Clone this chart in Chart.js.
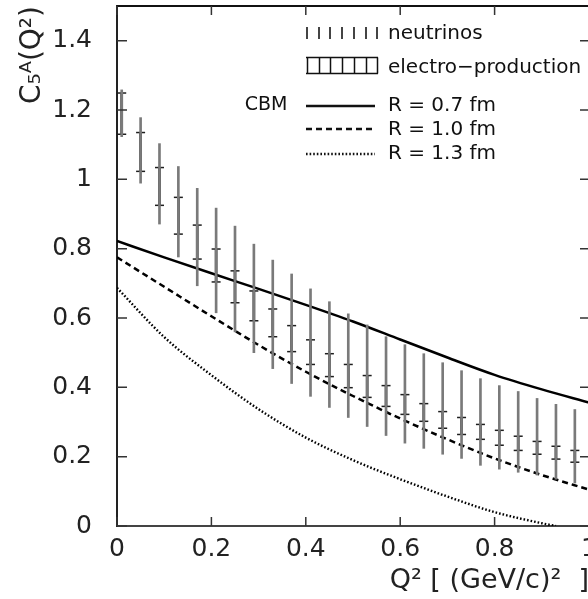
<!DOCTYPE html>
<html>
<head>
<meta charset="utf-8">
<script src="https://cdn.jsdelivr.net/npm/chart.js@4"></script>
<style>
  html, body { margin: 0; padding: 0; overflow: hidden; background: #fff; }
  #wrap { width: 600px; height: 599px; }
</style>
</head>
<body>
<div id="wrap"><canvas id="c5a-chart" width="600" height="599"></canvas></div>
<script>
// Q^2 values of the bands (GeV/c)^2
const qPoints = [0.01, 0.05, 0.09, 0.13, 0.17, 0.21, 0.25, 0.29, 0.33, 0.37, 0.41, 0.45, 0.49,
  0.53, 0.57, 0.61, 0.65, 0.69, 0.73, 0.77, 0.81, 0.85, 0.89, 0.93, 0.97];

// neutrino band (thin gray lines)
const neutrinoHigh = [1.258, 1.178, 1.103, 1.037, 0.974, 0.917, 0.865, 0.813, 0.767, 0.727, 0.684, 0.647, 0.612,
  0.580, 0.546, 0.523, 0.497, 0.471, 0.448, 0.425, 0.405, 0.388, 0.368, 0.351, 0.336];
const neutrinoLow = [1.123, 0.989, 0.871, 0.776, 0.693, 0.615, 0.560, 0.500, 0.454, 0.411, 0.374, 0.342, 0.313,
  0.287, 0.261, 0.239, 0.224, 0.207, 0.195, 0.175, 0.164, 0.155, 0.147, 0.135, 0.124];

// electro-production band (dark segment with caps)
const electroHigh = [1.249, 1.135, 1.034, 0.948, 0.868, 0.799, 0.736, 0.678, 0.626, 0.578, 0.537, 0.497, 0.466,
  0.434, 0.405, 0.379, 0.353, 0.330, 0.313, 0.293, 0.276, 0.259, 0.244, 0.230, 0.218];
const electroLow = [1.130, 1.023, 0.925, 0.842, 0.770, 0.704, 0.644, 0.592, 0.546, 0.503, 0.466, 0.431, 0.399,
  0.371, 0.345, 0.322, 0.302, 0.282, 0.264, 0.250, 0.233, 0.218, 0.207, 0.193, 0.184];

// CBM curves
const curveQ = [0, 0.1, 0.2, 0.3, 0.4, 0.5, 0.6, 0.7, 0.8, 0.9, 1.0];
const curveR07 = [0.822, 0.775, 0.729, 0.684, 0.638, 0.590, 0.538, 0.486, 0.436, 0.394, 0.356];
const curveR10 = [0.775, 0.690, 0.605, 0.522, 0.445, 0.375, 0.310, 0.250, 0.195, 0.147, 0.105];
const curveQ13 = [0, 0.1, 0.2, 0.3, 0.4, 0.5, 0.6, 0.7, 0.8, 0.9, 0.93];
const curveR13 = [0.687, 0.545, 0.435, 0.337, 0.255, 0.190, 0.135, 0.085, 0.040, 0.008, 0];

const xTicks = [0, 0.2, 0.4, 0.6, 0.8, 1];
const xTickLabels = ['0', '0.2', '0.4', '0.6', '0.8', '1'];
const yTicks = [0, 0.2, 0.4, 0.6, 0.8, 1, 1.2, 1.4];
const yTickLabels = ['0', '0.2', '0.4', '0.6', '0.8', '1', '1.2', '1.4'];

const FONT = "'DejaVu Sans', sans-serif";

function pairs(xs, ys) {
  return xs.map((x, i) => ({ x: x, y: ys[i] }));
}

// frame on top/right and the inward tick marks
const framePlugin = {
  id: 'frame',
  afterDraw(chart) {
    const { ctx, chartArea: a, scales: { x, y } } = chart;
    ctx.save();
    ctx.strokeStyle = '#111';
    ctx.lineWidth = 2;
    ctx.beginPath();
    ctx.moveTo(a.left, a.top);
    ctx.lineTo(a.right, a.top);
    ctx.lineTo(a.right, a.bottom);
    ctx.stroke();

    ctx.strokeStyle = '#333';
    ctx.lineWidth = 1.5;
    ctx.beginPath();
    xTicks.forEach(v => {
      const px = x.getPixelForValue(v);
      ctx.moveTo(px, a.bottom); ctx.lineTo(px, a.bottom - 9);
      ctx.moveTo(px, a.top); ctx.lineTo(px, a.top + 9);
    });
    yTicks.forEach(v => {
      const py = y.getPixelForValue(v);
      ctx.moveTo(a.left, py); ctx.lineTo(a.left + 10, py);
      ctx.moveTo(a.right, py); ctx.lineTo(a.right - 9, py);
    });
    ctx.stroke();
    ctx.restore();
  }
};

// legend in the upper right, drawn like the original figure
const legendPlugin = {
  id: 'figLegend',
  afterDraw(chart) {
    const ctx = chart.ctx;
    const x0 = 306, x1 = 377;
    ctx.save();
    // neutrinos: thin vertical lines
    ctx.strokeStyle = '#444';
    ctx.lineWidth = 2;
    ctx.beginPath();
    for (let i = 0; i < 7; i++) {
      const px = Math.round(x0 + 1 + i * 11.7);
      ctx.moveTo(px, 27); ctx.lineTo(px, 39);
    }
    ctx.stroke();
    // electro-production: ladder
    ctx.strokeStyle = '#111';
    ctx.lineWidth = 1.5;
    ctx.beginPath();
    ctx.moveTo(x0, 57.5); ctx.lineTo(x1 + 1, 57.5);
    ctx.moveTo(x0, 73.5); ctx.lineTo(x1 + 1, 73.5);
    for (let i = 0; i < 7; i++) {
      const px = Math.round(x0 + 1 + i * 11.7) + 0.5;
      ctx.moveTo(px, 57.5); ctx.lineTo(px, 73.5);
    }
    ctx.stroke();
    // curves
    const rows = [[106, []], [129, [6, 4]], [154, [1.6, 2]]];
    ctx.lineWidth = 2.4;
    rows.forEach(([py, dash]) => {
      ctx.setLineDash(dash);
      ctx.beginPath();
      ctx.moveTo(x0, py); ctx.lineTo(x1 - 2, py);
      ctx.stroke();
    });
    ctx.setLineDash([]);

    ctx.fillStyle = '#111';
    ctx.font = '20px ' + FONT;
    ctx.textBaseline = 'alphabetic';
    ctx.textAlign = 'left';
    ctx.fillText('neutrinos', 388, 39);
    ctx.fillText('electro\u2212production', 388, 73);
    ctx.fillText('R = 0.7 fm', 388, 111);
    ctx.fillText('R = 1.0 fm', 388, 135);
    ctx.fillText('R = 1.3 fm', 388, 159);
    ctx.font = '19px ' + FONT;
    ctx.textAlign = 'center';
    ctx.fillText('CBM', 266, 110);
    ctx.restore();
  }
};

const ctx = document.getElementById('c5a-chart').getContext('2d');

new Chart(ctx, {
  type: 'scatter',
  data: {
    datasets: [
      {
        type: 'bar',
        label: 'neutrinos',
        data: qPoints.map((q, i) => ({ x: q, y: [neutrinoLow[i], neutrinoHigh[i]] })),
        backgroundColor: '#7a7a7a',
        barThickness: 2,
        grouped: false,
        borderWidth: 0
      },
      {
        type: 'bar',
        label: 'electro-production',
        data: qPoints.map((q, i) => ({ x: q, y: [electroLow[i], electroHigh[i]] })),
        backgroundColor: '#1e1e1e',
        barThickness: 2,
        grouped: false,
        borderWidth: 0
      },
      {
        label: 'electro caps high',
        data: pairs(qPoints, electroHigh),
        pointStyle: 'line',
        pointRadius: 4.5,
        borderColor: '#1e1e1e',
        borderWidth: 1.5
      },
      {
        label: 'electro caps low',
        data: pairs(qPoints, electroLow),
        pointStyle: 'line',
        pointRadius: 4.5,
        borderColor: '#1e1e1e',
        borderWidth: 1.5
      },
      {
        type: 'line',
        label: 'R = 0.7 fm',
        data: pairs(curveQ, curveR07),
        borderColor: '#000',
        borderWidth: 2.5,
        pointRadius: 0,
        cubicInterpolationMode: 'monotone'
      },
      {
        type: 'line',
        label: 'R = 1.0 fm',
        data: pairs(curveQ, curveR10),
        borderColor: '#000',
        borderWidth: 2.5,
        borderDash: [6, 4],
        pointRadius: 0,
        cubicInterpolationMode: 'monotone'
      },
      {
        type: 'line',
        label: 'R = 1.3 fm',
        data: pairs(curveQ13, curveR13),
        borderColor: '#000',
        borderWidth: 2.4,
        borderDash: [1.6, 2],
        pointRadius: 0,
        cubicInterpolationMode: 'monotone'
      }
    ]
  },
  options: {
    responsive: false,
    animation: false,
    layout: { padding: { top: 5, right: 11, left: 0, bottom: 0 } },
    plugins: {
      legend: { display: false },
      tooltip: { enabled: false }
    },
    scales: {
      x: {
        type: 'linear',
        min: 0,
        max: 1,
        offset: false,
        grid: { display: false },
        border: { display: true, color: '#444', width: 2 },
        afterBuildTicks: s => { s.ticks = xTicks.map(v => ({ value: v })); },
        afterFit: s => { s.height = 73; s.paddingLeft = 0; s.paddingRight = 0; },
        ticks: {
          padding: 0,
          color: '#222',
          font: { family: FONT, size: 25 },
          maxRotation: 0,
          callback: (v, i) => xTickLabels[i]
        },
        title: {
          display: true,
          text: 'Q\u00b2 [ (GeV/c)\u00b2  ]',
          align: 'end',
          color: '#222',
          font: { family: FONT, size: 27 },
          padding: { top: 0, bottom: 2 }
        }
      },
      y: {
        min: 0,
        max: 1.5,
        grid: { display: false },
        border: { display: true, color: '#222', width: 2 },
        afterBuildTicks: s => { s.ticks = yTicks.map(v => ({ value: v })); },
        afterFit: s => { s.width = 117; s.paddingTop = 0; s.paddingBottom = 0; },
        ticks: {
          padding: 17,
          color: '#222',
          font: { family: FONT, size: 25 },
          callback: (v, i) => yTickLabels[i]
        },
        title: {
          display: true,
          text: 'C\u2085\u1d2c(Q\u00b2)',
          align: 'end',
          color: '#222',
          font: { family: FONT, size: 28 },
          padding: { top: 16, bottom: 0 }
        }
      }
    }
  },
  plugins: [framePlugin, legendPlugin]
});
</script>
</body>
</html>
